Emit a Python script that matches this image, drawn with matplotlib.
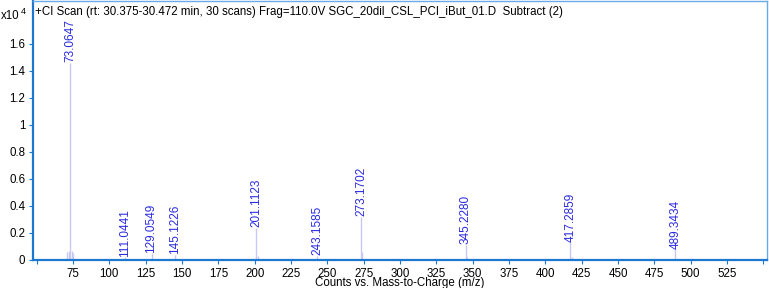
import matplotlib
matplotlib.use("Agg")
import matplotlib.pyplot as plt

plt.rcParams['font.family'] = ['Liberation Sans', 'DejaVu Sans']

# labelled peaks (m/z, intensity x10^4)
peak_mz = [73.0647, 111.0441, 129.0549, 145.1226, 201.1123, 243.1585,
           273.1702, 345.2280, 417.2859, 489.3434]
peak_int = [1.46, 0.02, 0.05, 0.04, 0.24, 0.03, 0.32, 0.11, 0.13, 0.08]
peak_labels = ["73.0647", "111.0441", "129.0549", "145.1226", "201.1123",
               "243.1585", "273.1702", "345.2280", "417.2859", "489.3434"]

# minor unlabelled peaks
minor_mz = [71.0, 72.0, 74.07, 75.0, 202.1, 274.17, 146.1, 346.2, 418.3]
minor_int = [0.06, 0.07, 0.07, 0.05, 0.03, 0.06, 0.01, 0.02, 0.02]

xticks = [50, 75, 100, 125, 150, 175, 200, 225, 250, 275, 300, 325, 350, 375,
          400, 425, 450, 475, 500, 525, 550]
xtick_labels = ["", "75", "100", "125", "150", "175", "200", "225", "250",
                "275", "300", "325", "350", "375", "400", "425", "450", "475",
                "500", "525", ""]
yticks = [0, 0.2, 0.4, 0.6, 0.8, 1, 1.2, 1.4, 1.6]
ytick_labels = ["0", "0.2", "0.4", "0.6", "0.8", "1", "1.2", "1.4", "1.6"]

title = "+CI Scan (rt: 30.375-30.472 min, 30 scans) Frag=110.0V SGC_20dil_CSL_PCI_iBut_01.D  Subtract (2)"

fs = 8.3
fig = plt.figure(figsize=(7.69, 2.88), dpi=100)
ax = fig.add_axes([33/769, 1 - 260/288, (767-33)/769, (260-1)/288])

line_col = "#c8c8f4"
label_col = "#2a2ae0"
ax.vlines(minor_mz, 0, minor_int, color=line_col, lw=1)
ax.vlines(peak_mz, 0, peak_int, color=line_col, lw=1)
for mz, h, lab in zip(peak_mz, peak_int, peak_labels):
    ax.text(mz, h + 0.005, lab, rotation=90, ha='center', va='bottom',
            color=label_col, fontsize=8.5)

ax.set_xlim(47.5, 552.5)
ax.set_ylim(0, 1.915)
ax.set_xticks(xticks)
ax.set_xticklabels(xtick_labels, fontsize=fs)
ax.set_yticks(yticks)
ax.set_yticklabels(ytick_labels, fontsize=fs)
ax.tick_params(axis='both', length=3, width=0.8, color="#1f78d0", pad=2.5)
ax.tick_params(axis='x', pad=2.8)

for s in ['left', 'bottom']:
    ax.spines[s].set_color("#1f78d0")
    ax.spines[s].set_linewidth(1.6)
for s in ['top', 'right']:
    ax.spines[s].set_color("#6aaae6")
    ax.spines[s].set_linewidth(1.0)

fig.text(35/769, 1 - 12/288, title, ha='left', va='center', fontsize=fs)
fig.text(1/769, 1 - 16/288, "x10", ha='left', va='center', fontsize=fs)
fig.text(21/769, 1 - 12/288, "4", ha='left', va='center', fontsize=6.5)

fig.text(400/769, 1 - 283/288, "Counts vs. Mass-to-Charge (m/z)", ha='center',
         va='center', fontsize=fs)

fig.savefig("out.png", dpi=100)
